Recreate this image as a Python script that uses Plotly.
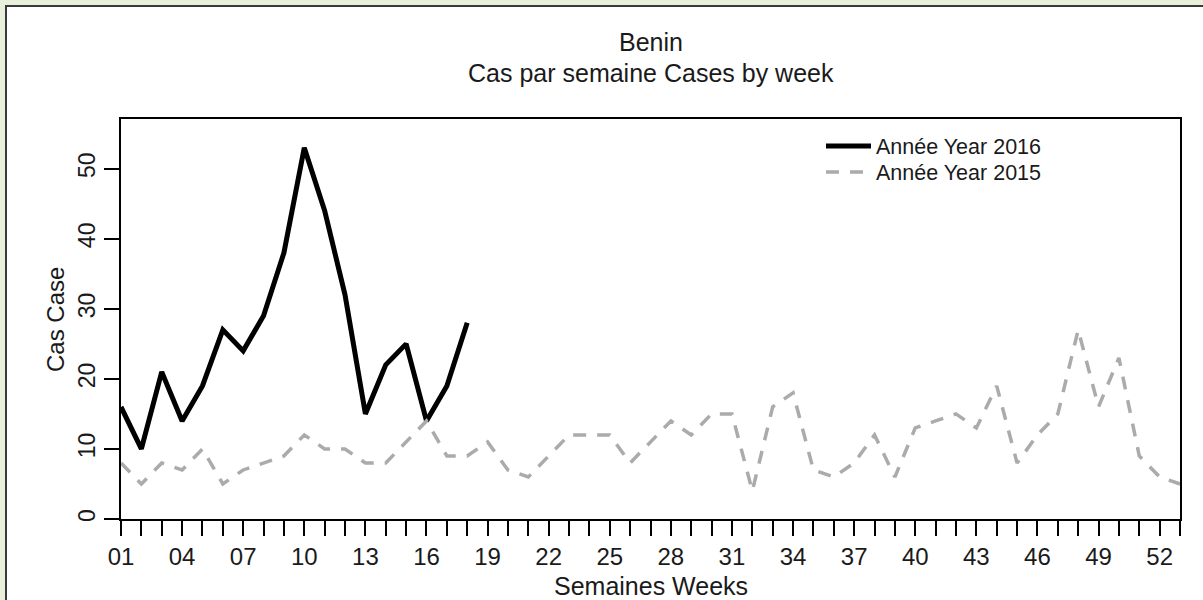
import plotly.graph_objects as go

# ---- data ----
weeks_2016 = list(range(1, 19))
cases_2016 = [16, 10, 21, 14, 19, 27, 24, 29, 38, 53, 44, 32, 15, 22, 25, 14, 19, 28]

weeks_2015 = list(range(1, 54))
cases_2015 = [8, 5, 8, 7, 10, 5, 7, 8, 9, 12, 10, 10, 8, 8, 11, 14, 9, 9, 11, 7,
              6, 9, 12, 12, 12, 8, 11, 14, 12, 15, 15, 4, 16, 18, 7, 6, 8, 12, 6, 13,
              14, 15, 13, 19, 8, 12, 15, 27, 16, 23, 9, 6, 5]

x_tick_vals = list(range(1, 54))
x_tick_text = [f"{w:02d}" if (w - 1) % 3 == 0 else "" for w in x_tick_vals]
y_tick_vals = [0, 10, 20, 30, 40, 50]

title_main = "Benin"
title_sub = "Cas par semaine Cases by week"
x_title = "Semaines Weeks"
y_title = "Cas Case"
name_2016 = "Année Year 2016"
name_2015 = "Année Year 2015"

# ---- layout geometry (pixels) ----
W, H = 1203, 600
ML, MR, MT, MB = 121, 23, 119, 81
PW, PH = W - ML - MR, H - MT - MB


def px_x(px):
    return (px - ML) / PW


def px_y(py):
    return (H - MB - py) / PH


FONT = "Liberation Sans, Arial, sans-serif"
TXT = "#1a1a1a"

fig = go.Figure()
fig.add_trace(go.Scatter(
    x=weeks_2016, y=cases_2016, mode="lines", name=name_2016, legend="legend",
    line=dict(color="black", width=5),
))
fig.add_trace(go.Scatter(
    x=weeks_2015, y=cases_2015, mode="lines", name=name_2015, legend="legend2",
    line=dict(color="#ababab", width=3.5, dash="13px,11px"),
))

legend_common = dict(
    xanchor="left", yanchor="middle", bgcolor="rgba(0,0,0,0)",
    font=dict(size=21.5, color=TXT), itemwidth=45, tracegroupgap=0,
)

fig.update_layout(
    width=W, height=H,
    margin=dict(l=ML, r=MR, t=MT, b=MB, pad=0),
    paper_bgcolor="#e8f0dc",
    plot_bgcolor="white",
    font=dict(family=FONT, color=TXT, size=21),
    showlegend=True,
    legend=dict(x=px_x(821), y=px_y(146), **legend_common),
    legend2=dict(x=px_x(821), y=px_y(172), **legend_common),
    xaxis=dict(
        range=[1, 53], tickmode="array", tickvals=x_tick_vals, ticktext=x_tick_text,
        ticks="outside", ticklen=15, tickwidth=2, tickcolor="black",
        showline=True, linecolor="black", linewidth=2, mirror=True,
        showgrid=False, zeroline=False, tickfont=dict(size=24, color=TXT),
    ),
    yaxis=dict(
        range=[0, 57.1], tickmode="array", tickvals=y_tick_vals,
        ticks="outside", ticklen=15, tickwidth=2, tickcolor="black",
        showline=True, linecolor="black", linewidth=2, mirror=True,
        showgrid=False, zeroline=False, tickangle=-90,
        tickfont=dict(size=23, color=TXT),
    ),
    shapes=[dict(
        type="rect", xref="paper", yref="paper", layer="below",
        x0=px_x(6), x1=px_x(1215), y0=px_y(6), y1=px_y(615),
        line=dict(color="#3a3a3a", width=2), fillcolor="white",
    )],
    annotations=[
        dict(text=title_main, xref="paper", yref="paper", x=0.5, y=px_y(42),
             xanchor="center", yanchor="middle", showarrow=False,
             font=dict(size=25, color=TXT)),
        dict(text=title_sub, xref="paper", yref="paper", x=0.5, y=px_y(73),
             xanchor="center", yanchor="middle", showarrow=False,
             font=dict(size=25, color=TXT)),
        dict(text=x_title, xref="paper", yref="paper", x=0.5, y=px_y(586),
             xanchor="center", yanchor="middle", showarrow=False,
             font=dict(size=25, color=TXT)),
        dict(text=y_title, xref="paper", yref="paper", x=px_x(55), y=px_y(320),
             xanchor="center", yanchor="middle", showarrow=False, textangle=-90,
             font=dict(size=24, color=TXT)),
    ],
)

fig.write_html(
    "out.html",
    config={"displayModeBar": False},
    post_script="document.body.style.margin='0';document.body.style.background='#e8f0dc';",
)
